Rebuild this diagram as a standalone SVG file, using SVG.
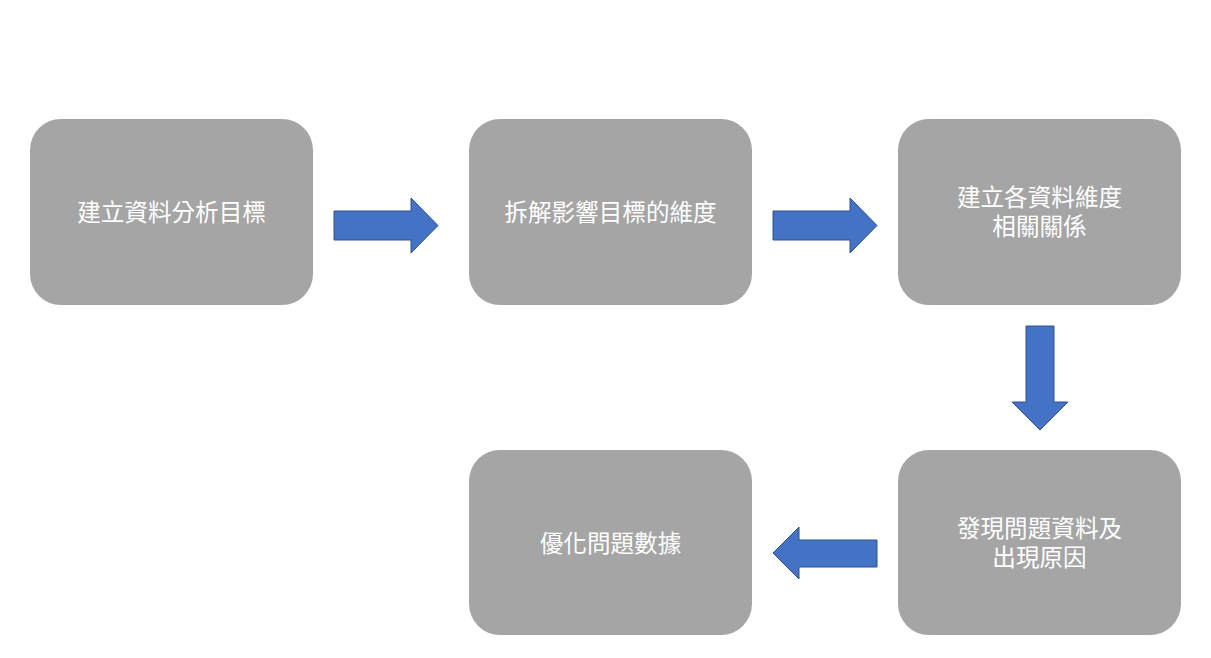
<svg xmlns="http://www.w3.org/2000/svg" width="1211" height="658" viewBox="0 0 1211 658">
<style>
.box{fill:#A5A5A5;}
.lbl{fill:#FFFFFF;font-family:"Noto Sans CJK TC","Noto Sans CJK SC",sans-serif;font-size:23.6px;text-anchor:middle;}
.arr{fill:#4472C4;stroke:#2F528F;stroke-width:1;}
</style>
<rect width="1211" height="658" fill="#FFFFFF"/>
<g id="n1"><rect class="box" x="30" y="119" width="283" height="186" rx="31"/><text class="lbl" x="171.5" y="220.5">建立資料分析目標</text></g>
<g id="n2"><rect class="box" x="469" y="119" width="283" height="186" rx="31"/><text class="lbl" x="610.5" y="220.5">拆解影響目標的維度</text></g>
<g id="n3"><rect class="box" x="898" y="119" width="283" height="186" rx="31"/><text class="lbl"><tspan x="1039.5" y="205.5">建立各資料維度</tspan><tspan x="1039.5" y="234.5">相關關係</tspan></text></g>
<g id="n4"><rect class="box" x="469" y="450" width="283" height="185" rx="31"/><text class="lbl" x="610.5" y="551.5">優化問題數據</text></g>
<g id="n5"><rect class="box" x="898" y="450" width="283" height="185" rx="31"/><text class="lbl"><tspan x="1039.5" y="536.5">發現問題資料及</tspan><tspan x="1039.5" y="565.5">出現原因</tspan></text></g>
<g id="connectors">
<polygon class="arr" points="334,211 411,211 411,198 438,225.5 411,253 411,240 334,240"/>
<polygon class="arr" points="773,211 850,211 850,198 877,225.5 850,253 850,240 773,240"/>
<polygon class="arr" points="1026,326 1054,326 1054,402 1068,402 1040,430 1012,402 1026,402"/>
<polygon class="arr" points="877,540 799,540 799,527 773,553 799,579 799,567 877,567"/>
</g>
</svg>
